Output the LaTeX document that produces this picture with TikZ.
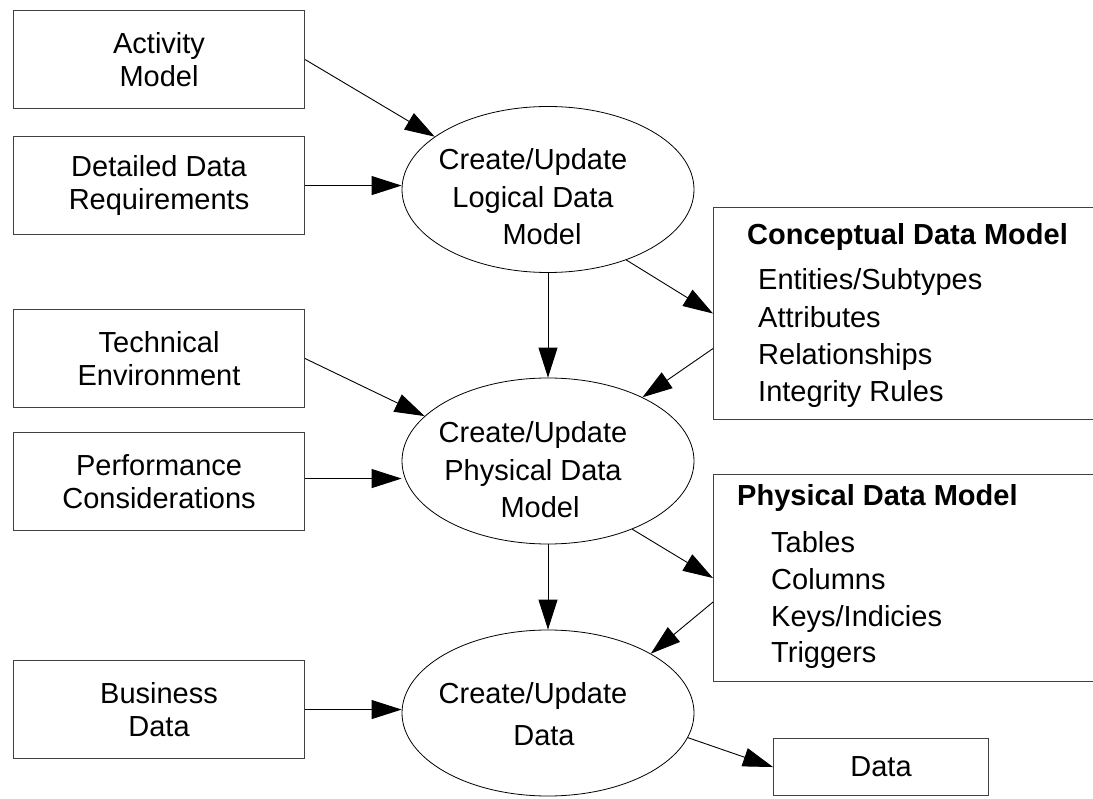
\documentclass[tikz,border=0pt]{standalone}
\usepackage{fontspec}
\setmainfont{Liberation Sans}
\usetikzlibrary{shapes.geometric,arrows.meta,calc}
\begin{document}
\begin{tikzpicture}[x=1pt,y=-1pt,
  box/.style={draw=black!75, line width=1.1pt, minimum width=291pt, minimum height=98pt,
    anchor=north west, align=center, inner sep=0pt, font=\fontsize{29}{33}\selectfont},
  proc/.style={draw, ellipse, line width=0.8pt, minimum width=292pt, minimum height=166pt, inner sep=0pt},
  ptext/.style={align=center, inner sep=0pt, font=\fontsize{29}{37.5}\selectfont},
  listbox/.style={draw=black!75, line width=1.1pt, minimum width=420pt, anchor=north west, inner sep=0pt},
  title/.style={anchor=base west, inner sep=0pt, font=\fontsize{29}{33}\selectfont\bfseries},
  item/.style={anchor=base west, inner sep=0pt, font=\fontsize{29}{33}\selectfont},
  arr/.style={-{Triangle[length=30pt,width=19pt]}, line width=0.9pt},
]
\clip (0,0) rectangle (1093,799);
\fill[white] (0,0) rectangle (1093,799);

% input boxes
\node[box] (act)  at (13,10)  {Activity\\Model};
\node[box] (ddr)  at (13,136) {Detailed Data\\Requirements};
\node[box] (tech) at (13,309) {Technical\\Environment};
\node[box] (perf) at (13,432) {Performance\\Considerations};
\node[box] (bus)  at (13,660) {Business\\Data};
\node[box, minimum width=215pt, minimum height=57pt] (data) at (773,738) {Data};

% processes
\node[proc] (e1) at (548,189.5) {};
\node[proc] (e2) at (548,461) {};
\node[proc] (e3) at (548,713) {};
\node[ptext] (t1) at (533,197) {Create/Update\\Logical Data\\\hspace*{18pt}Model};
\node[ptext] (t2) at (533,470) {Create/Update\\Physical Data\\\hspace*{14pt}Model};
\node[ptext] (t3) at (533,714) {Create/Update\\[4.5pt]\hspace*{22pt}Data};

% conceptual data model
\node[listbox, minimum height=212pt] (cdm) at (713,207) {};
\node[title] (cdmt) at (747,245) {Conceptual Data Model};
\node[item] (c1) at (758,290) {Entities/Subtypes};
\node[item] (c2) at (758,327.5) {Attributes};
\node[item] (c3) at (758,365) {Relationships};
\node[item] (c4) at (758,402) {Integrity Rules};

% physical data model
\node[listbox, minimum height=207pt] (pdm) at (713,474) {};
\node[title] (pdmt) at (737,505) {Physical Data Model};
\node[item] (p1) at (771,552) {Tables};
\node[item] (p2) at (771,589) {Columns};
\node[item] (p3) at (771,626) {Keys/Indicies};
\node[item] (p4) at (771,662) {Triggers};

% connectors
\draw[arr] (act.east) -- (e1.155);
\draw[arr] (ddr.east) -- (ddr.east -| e1.west);
\draw[arr] (e1.south) -- (e2.north);
\draw[arr] (e1.-42.7) -- (cdm.west);
\draw[arr] ($(cdm.west)+(0,35)$) -- (e2.34.5);
\draw[arr] (tech.east) -- (e2.160);
\draw[arr] ($(perf.east)+(0,-3)$) -- ($(perf.east -| e2.west)+(0,-3)$);
\draw[arr] (e2.south) -- (e3.north);
\draw[arr] (e2.-39) -- (pdm.west);
\draw[arr] ($(pdm.west)+(0,24)$) -- (e3.30.5);
\draw[arr] (bus.east) -- (bus.east -| e3.west);
\draw[arr] (e3.-10.5) -- (data.west);
\end{tikzpicture}
\end{document}
